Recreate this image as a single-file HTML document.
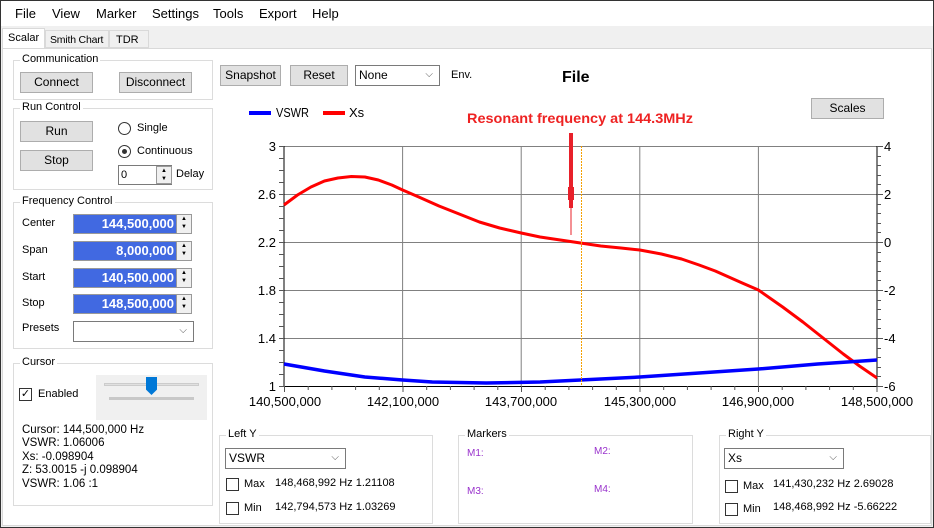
<!DOCTYPE html>
<html><head><meta charset="utf-8"><style>
*{box-sizing:border-box}
body{margin:0;width:934px;height:528px;position:relative;background:#f0f0f0;font-family:"Liberation Sans",sans-serif;font-size:11px;color:#000;overflow:hidden}
.a{position:absolute}
.btn{position:absolute;background:#e1e1e1;border:1px solid #adadad;text-align:center;line-height:19px;font-size:12px}
.grp{position:absolute;border:1px solid #dcdcdc}
.gl{position:absolute;top:-8px;left:6px;background:#fff;padding:0 2px;font-size:11px}
.tb{position:absolute;background:#4169e1;color:#fff;font-weight:bold;font-size:13px;text-align:right;line-height:18px;padding-right:2px;border:1px solid #999}
.sp{position:absolute;width:16px;background:#f0f0f0;border:1px solid #999;font-size:6px;text-align:center;line-height:8px}
.cb{position:absolute;width:13px;height:13px;border:1px solid #333;background:#fff}
.combo{position:absolute;background:#fff;border:1px solid #7a7a7a;padding-left:3px;line-height:18px;font-size:12px}
.combo:after{content:"\2335";position:absolute;right:6px;top:0;font-size:10px;color:#555}
</style></head><body>
<div class="a" style="left:0;top:0;width:934px;height:528px;border:1px solid #333"></div>
<div class="a" style="left:1px;top:1px;width:932px;height:25px;background:#fff"></div>
<div class="a" style="left:15px;top:6px;font-size:13px">File</div>
<div class="a" style="left:52px;top:6px;font-size:13px">View</div>
<div class="a" style="left:96px;top:6px;font-size:13px">Marker</div>
<div class="a" style="left:152px;top:6px;font-size:13px">Settings</div>
<div class="a" style="left:213px;top:6px;font-size:13px">Tools</div>
<div class="a" style="left:259px;top:6px;font-size:13px">Export</div>
<div class="a" style="left:312px;top:6px;font-size:13px">Help</div>
<div class="a" style="left:45px;top:30px;width:64px;height:18px;border:1px solid #d9d9d9;background:#f0f0f0"></div>
<div class="a" style="left:109px;top:30px;width:40px;height:18px;border:1px solid #d9d9d9;background:#f0f0f0"></div>
<div class="a" style="left:2px;top:28px;width:43px;height:21px;background:#fff;border:1px solid #d9d9d9;border-bottom:none"></div>
<div class="a" style="left:8px;top:32px;font-size:11px">Scalar</div>
<div class="a" style="left:50px;top:34px;font-size:10.5px;letter-spacing:-0.2px">Smith Chart</div>
<div class="a" style="left:116px;top:34px;font-size:11px">TDR</div>
<div class="a" style="left:2px;top:48px;width:930px;height:478px;background:#fff;border:1px solid #d9d9d9"></div>

<div class="grp" style="left:13px;top:60px;width:200px;height:40px"><span class="gl">Communication</span></div>
<div class="btn" style="left:20px;top:72px;width:73px;height:21px">Connect</div>
<div class="btn" style="left:119px;top:72px;width:73px;height:21px">Disconnect</div>
<div class="grp" style="left:13px;top:108px;width:200px;height:82px"><span class="gl">Run Control</span></div>
<div class="btn" style="left:20px;top:121px;width:73px;height:21px">Run</div>
<div class="btn" style="left:20px;top:150px;width:73px;height:21px">Stop</div>
<div class="a" style="left:118px;top:122px;width:13px;height:13px;border:1px solid #333;border-radius:50%;background:#fff"></div>
<div class="a" style="left:137px;top:122px">Single</div>
<div class="a" style="left:118px;top:145px;width:13px;height:13px;border:1px solid #333;border-radius:50%;background:#fff"><div class="a" style="left:3px;top:3px;width:5px;height:5px;border-radius:50%;background:#333"></div></div>
<div class="a" style="left:137px;top:145px">Continuous</div>
<div class="a" style="left:118px;top:165px;width:54px;height:20px;border:1px solid #7a7a7a;background:#fff;padding-left:2px;line-height:18px">0</div>
<div class="sp" style="left:156px;top:166px;height:18px">▲<br>▼</div>
<div class="a" style="left:176px;top:168px">Delay</div>

<div class="grp" style="left:13px;top:202px;width:200px;height:147px"><span class="gl">Frequency Control</span></div>
<div class="a" style="left:22px;top:217px">Center</div>
<div class="a" style="left:22px;top:244px">Span</div>
<div class="a" style="left:22px;top:271px">Start</div>
<div class="a" style="left:22px;top:297px">Stop</div>
<div class="a" style="left:22px;top:322px">Presets</div>
<div class="tb" style="left:73px;top:214px;width:104px;height:20px">144,500,000</div><div class="sp" style="left:176px;top:214px;height:20px">▲<br>▼</div>
<div class="tb" style="left:73px;top:241px;width:104px;height:20px">8,000,000</div><div class="sp" style="left:176px;top:241px;height:20px">▲<br>▼</div>
<div class="tb" style="left:73px;top:268px;width:104px;height:20px">140,500,000</div><div class="sp" style="left:176px;top:268px;height:20px">▲<br>▼</div>
<div class="tb" style="left:73px;top:294px;width:104px;height:20px">148,500,000</div><div class="sp" style="left:176px;top:294px;height:20px">▲<br>▼</div>
<div class="combo" style="left:73px;top:321px;width:121px;height:21px"></div>

<div class="grp" style="left:13px;top:363px;width:200px;height:143px"><span class="gl">Cursor</span></div>
<div class="cb" style="left:19px;top:388px;font-size:11px;line-height:11px;text-align:center">✓</div>
<div class="a" style="left:38px;top:388px">Enabled</div>
<div class="a" style="left:96px;top:375px;width:111px;height:45px;background:#f0f0f0"></div>
<div class="a" style="left:104px;top:383px;width:95px;height:3px;background:#e0e0e0;border:1px solid #ccc"></div>
<div class="a" style="left:109px;top:397px;width:85px;height:3px;background:#c8c8c8"></div>
<div class="a" style="left:146px;top:377px;width:11px;height:18px;background:#0078d7;clip-path:polygon(0 0,100% 0,100% 70%,50% 100%,0 70%)"></div>
<div class="a" style="left:22px;top:424px;line-height:13.4px;font-size:11.5px">Cursor: 144,500,000 Hz<br>VSWR: 1.06006<br>Xs: -0.098904<br>Z: 53.0015 -j 0.098904<br>VSWR: 1.06 :1</div>

<div class="btn" style="left:220px;top:65px;width:61px;height:21px">Snapshot</div>
<div class="btn" style="left:290px;top:65px;width:58px;height:21px">Reset</div>
<div class="combo" style="left:355px;top:65px;width:85px;height:21px">None</div>
<div class="a" style="left:451px;top:69px">Env.</div>
<div class="a" style="left:562px;top:69px;font-size:16px;font-weight:bold">File</div>
<div class="btn" style="left:811px;top:98px;width:73px;height:21px">Scales</div>

<svg class="a" style="left:0;top:0" width="934" height="528">
<line x1="249" y1="113" x2="271" y2="113" stroke="#0000ff" stroke-width="4"/>
<line x1="323" y1="113" x2="345" y2="113" stroke="#ff0000" stroke-width="4"/>
<text x="276" y="117" font-size="13" font-family="Liberation Sans" textLength="33" lengthAdjust="spacingAndGlyphs">VSWR</text>
<text x="349" y="117" font-size="13" font-family="Liberation Sans">Xs</text>
<text x="467" y="123" font-size="14" font-weight="bold" fill="#ee2222" font-family="Liberation Sans" textLength="226" lengthAdjust="spacingAndGlyphs">Resonant frequency at 144.3MHz</text>
<g transform="translate(284,0) scale(1.34773,1) translate(-270,0)">
<g stroke="#808080" stroke-width="1" vector-effect="non-scaling-stroke">
<line vector-effect="non-scaling-stroke" x1="270" y1="146.5" x2="710" y2="146.5"/><line vector-effect="non-scaling-stroke" x1="270" y1="194.5" x2="710" y2="194.5"/><line vector-effect="non-scaling-stroke" x1="270" y1="242.5" x2="710" y2="242.5"/><line vector-effect="non-scaling-stroke" x1="270" y1="290.5" x2="710" y2="290.5"/><line vector-effect="non-scaling-stroke" x1="270" y1="338.5" x2="710" y2="338.5"/>
<line vector-effect="non-scaling-stroke" x1="358" y1="146" x2="358" y2="386"/><line vector-effect="non-scaling-stroke" x1="446" y1="146" x2="446" y2="386"/><line vector-effect="non-scaling-stroke" x1="534" y1="146" x2="534" y2="386"/><line vector-effect="non-scaling-stroke" x1="622" y1="146" x2="622" y2="386"/>
</g>
<g stroke="#000">
<line vector-effect="non-scaling-stroke" x1="270" y1="146" x2="270" y2="386"/><line vector-effect="non-scaling-stroke" x1="710" y1="146" x2="710" y2="386"/><line vector-effect="non-scaling-stroke" x1="270" y1="386.5" x2="710" y2="386.5"/>
</g>
<polyline vector-effect="non-scaling-stroke" points="270,205 280,195 290,187 300,181 310,178 320,176.5 330,177 340,180 350,185 358,190 370,197 385,206 400,214 415,222 430,228 446,233 460,237 475,240 490,243 505,246 520,248 534,250 550,254 565,259 578,265 590,271 600,277 610,283 622,290 640,307 655,322 670,338 685,354 697,366 710,378" fill="none" stroke="#ff0000" stroke-width="3" stroke-linejoin="round"/>
<polyline vector-effect="non-scaling-stroke" points="270,364 300,371 330,377 358,380 380,382 420,383 460,382 490,380 534,377 578,373 622,369 666,364 710,360" fill="none" stroke="#0000ff" stroke-width="3.5" stroke-linejoin="round"/>
</g>
<line x1="581.5" y1="146" x2="581.5" y2="386" stroke="#f5a000" stroke-width="1" stroke-dasharray="2,1"/>
<rect x="569" y="133" width="4" height="75" fill="#e8202a"/>
<rect x="568" y="187" width="6" height="13" fill="#e8202a"/>
<line x1="571" y1="208" x2="571" y2="235" stroke="#e8202a" stroke-width="1"/>
<g font-size="13" font-family="Liberation Sans" text-anchor="end">
<text x="276" y="151">3</text><text x="276" y="199">2.6</text><text x="276" y="247">2.2</text><text x="276" y="295">1.8</text><text x="276" y="343">1.4</text><text x="276" y="391">1</text>
</g>
<g font-size="13" font-family="Liberation Sans" text-anchor="start">
<text x="884" y="151">4</text><text x="884" y="199">2</text><text x="884" y="247">0</text><text x="884" y="295">-2</text><text x="884" y="343">-4</text><text x="884" y="391">-6</text>
</g>
<g font-size="13" font-family="Liberation Sans" text-anchor="middle">
<text x="285" y="406">140,500,000</text><text x="403" y="406">142,100,000</text><text x="521" y="406">143,700,000</text><text x="640" y="406">145,300,000</text><text x="758" y="406">146,900,000</text><text x="877" y="406">148,500,000</text>
</g>
<g stroke="#555" stroke-width="1">
<path d="M279,146.5h5M279,158.5h5M279,170.5h5M279,182.5h5M279,194.5h5M279,206.5h5M279,218.5h5M279,230.5h5M279,242.5h5M279,254.5h5M279,266.5h5M279,278.5h5M279,290.5h5M279,302.5h5M279,314.5h5M279,326.5h5M279,338.5h5M279,350.5h5M279,362.5h5M279,374.5h5M279,386.5h5"/>
<path d="M877,146.5h6M877,156.5h4M877,165.5h4M877,175.5h4M877,184.5h4M877,194.5h6M877,204.5h4M877,213.5h4M877,223.5h4M877,232.5h4M877,242.5h6M877,252.5h4M877,261.5h4M877,271.5h4M877,280.5h4M877,290.5h6M877,300.5h4M877,309.5h4M877,319.5h4M877,328.5h4M877,338.5h6M877,348.5h4M877,357.5h4M877,367.5h4M877,376.5h4M877,386.5h6"/>
<path d="M284.5,386v6M308.2,386v4M331.9,386v4M355.6,386v4M379.3,386v4M403,386v6M426.7,386v4M450.4,386v4M474.1,386v4M497.8,386v4M521.5,386v6M545.2,386v4M568.9,386v4M592.6,386v4M616.3,386v4M640,386v6M663.7,386v4M687.4,386v4M711.1,386v4M734.8,386v4M758.5,386v6M782.2,386v4M805.9,386v4M829.6,386v4M853.3,386v4M877,386v6"/>
</g>
</svg>

<div class="grp" style="left:219px;top:435px;width:214px;height:89px"><span class="gl">Left Y</span></div>
<div class="combo" style="left:225px;top:448px;width:121px;height:21px">VSWR</div>
<div class="cb" style="left:226px;top:478px"></div><div class="a" style="left:244px;top:478px">Max</div><div class="a" style="left:275px;top:477px">148,468,992 Hz 1.21108</div>
<div class="cb" style="left:226px;top:502px"></div><div class="a" style="left:244px;top:502px">Min</div><div class="a" style="left:275px;top:501px">142,794,573 Hz 1.03269</div>
<div class="grp" style="left:458px;top:435px;width:235px;height:89px"><span class="gl">Markers</span></div>
<div class="a" style="left:467px;top:448px;color:#9932cc;font-size:10px">M1:</div>
<div class="a" style="left:594px;top:446px;color:#9932cc;font-size:10px">M2:</div>
<div class="a" style="left:467px;top:486px;color:#9932cc;font-size:10px">M3:</div>
<div class="a" style="left:594px;top:484px;color:#9932cc;font-size:10px">M4:</div>
<div class="grp" style="left:719px;top:435px;width:212px;height:89px"><span class="gl">Right Y</span></div>
<div class="combo" style="left:724px;top:448px;width:120px;height:21px">Xs</div>
<div class="cb" style="left:725px;top:480px"></div><div class="a" style="left:743px;top:480px">Max</div><div class="a" style="left:773px;top:478px">141,430,232 Hz 2.69028</div>
<div class="cb" style="left:725px;top:503px"></div><div class="a" style="left:743px;top:503px">Min</div><div class="a" style="left:773px;top:501px">148,468,992 Hz -5.66222</div>
</body></html>
